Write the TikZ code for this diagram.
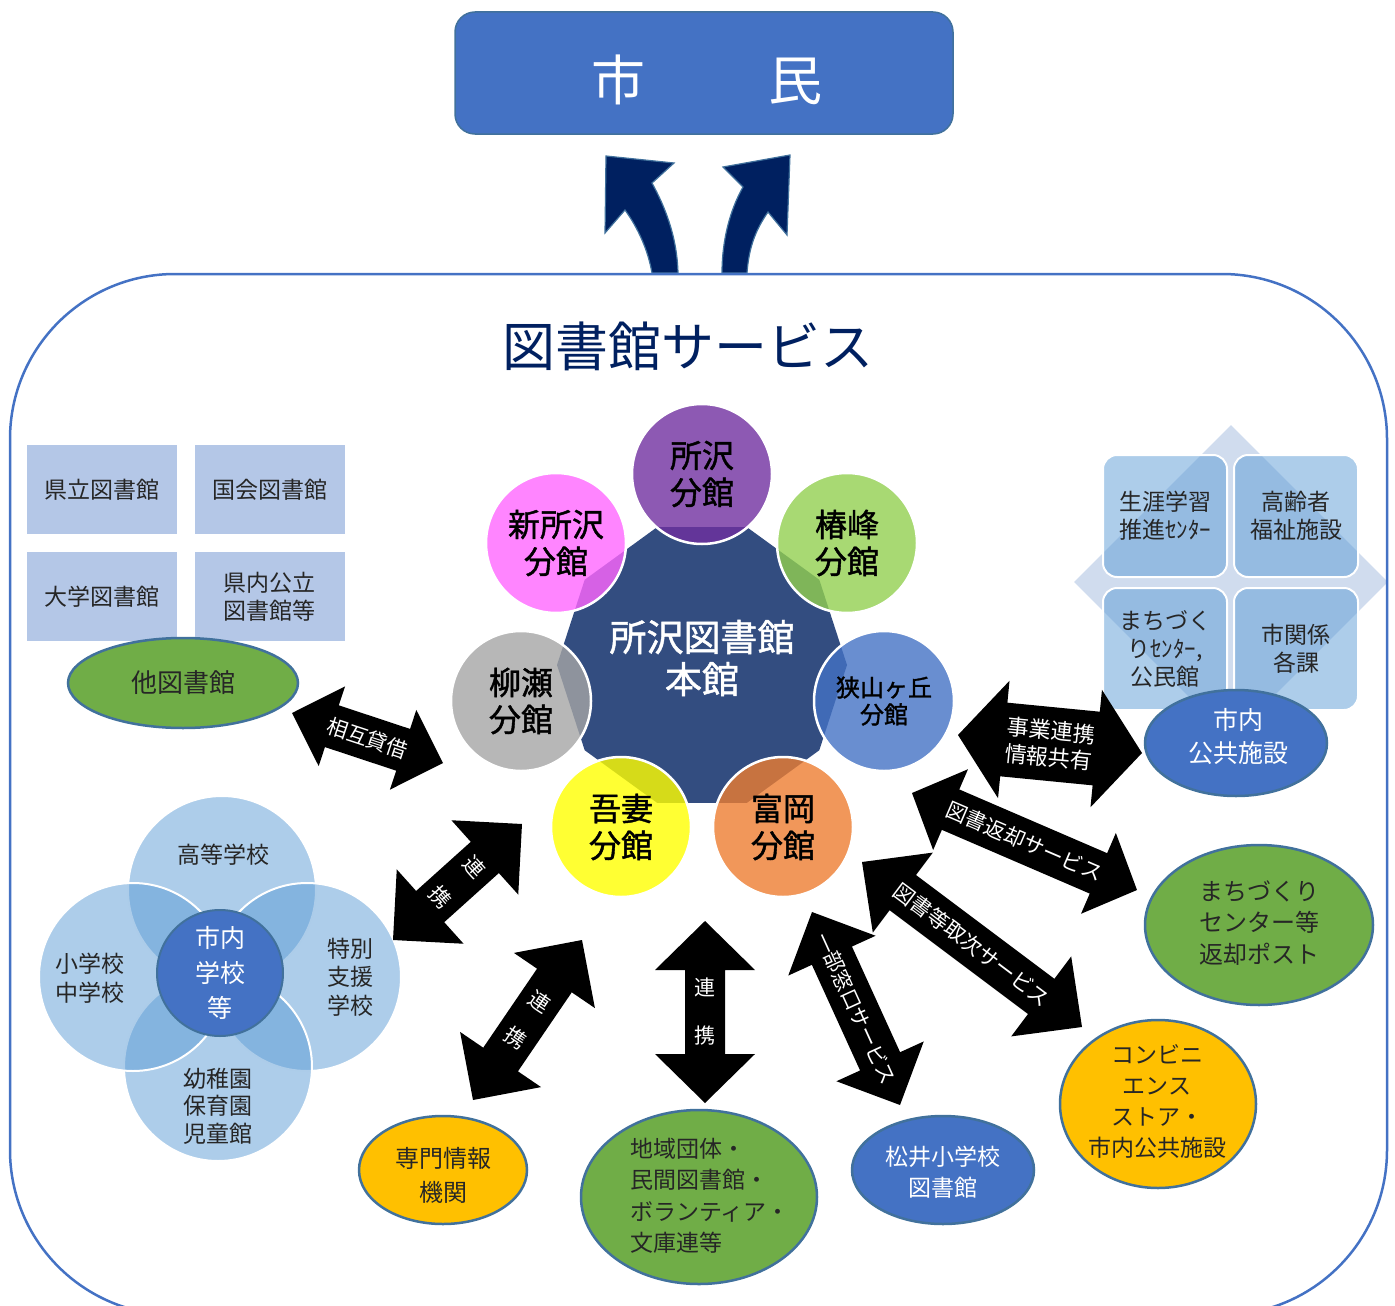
\documentclass[tikz,border=0pt]{standalone}
\usepackage{fontspec}
\setmainfont{Noto Sans CJK JP}
\newfontfamily\medfont{Noto Sans CJK JP}[FakeBold=1.3]
\usetikzlibrary{shapes.geometric,calc}
\definecolor{navy}{HTML}{002060}
\definecolor{arredge}{HTML}{41719C}
\definecolor{mainblue}{HTML}{4472C4}
\definecolor{edgeblue}{HTML}{41719C}
\definecolor{honkan}{HTML}{334D80}
\definecolor{cpurple}{HTML}{7030A0}
\definecolor{cmagenta}{HTML}{FF66FF}
\definecolor{clgreen}{HTML}{92D050}
\definecolor{corange}{HTML}{ED7D31}
\definecolor{cyellow}{HTML}{FFFF00}
\definecolor{cgray}{HTML}{A5A5A5}
\definecolor{acc}{HTML}{5B9BD5}
\definecolor{boxblue}{HTML}{B4C7E7}
\definecolor{dia}{HTML}{D0DCEE}
\definecolor{green}{HTML}{70AD47}
\definecolor{gold}{HTML}{FFC000}
\definecolor{txtgray}{HTML}{262626}
\tikzset{
 circ/.style={circle, minimum size=140pt, inner sep=0pt, draw=white, line width=2.5pt, fill opacity=0.8, text opacity=1, align=center, font=\medfont\fontsize{32}{37}\selectfont},
 petal/.style={circle, minimum size=188pt, inner sep=0pt, draw=white, line width=2pt, fill=acc, fill opacity=0.5},
 tlbox/.style={rectangle, minimum width=150pt, minimum height=89pt, inner sep=0pt, fill=boxblue, align=center, text=txtgray, font=\fontsize{23}{28}\selectfont},
 rsq/.style={rectangle, rounded corners=14pt, minimum width=124pt, minimum height=122pt, inner sep=0pt, fill=acc, fill opacity=0.5, draw=white, line width=2pt, text opacity=1, align=center, text=txtgray, font=\fontsize{23}{28}\selectfont},
 ell/.style={ellipse, inner sep=0pt, draw=edgeblue, line width=2.5pt},
 lbl/.style={align=center, inner sep=0pt},
 arrowtxt/.style={text=white, align=center, inner sep=0pt},
}
\newcommand{\barrow}[9]{%
 \coordinate (#1-a) at #2;
 \coordinate (#1-b) at #3;
 \coordinate (#1-p) at ($(#1-a)!#6!(#1-b)$);
 \coordinate (#1-q) at ($(#1-b)!#6!(#1-a)$);
 \fill[black] (#1-a) -- ($(#1-p)!#5!90:(#1-b)$) -- ($(#1-p)!#4!90:(#1-b)$) -- ($(#1-q)!#4!-90:(#1-a)$) -- ($(#1-q)!#5!-90:(#1-a)$) -- (#1-b) -- ($(#1-q)!#5!90:(#1-a)$) -- ($(#1-q)!#4!90:(#1-a)$) -- ($(#1-p)!#4!-90:(#1-b)$) -- ($(#1-p)!#5!-90:(#1-b)$) -- cycle;
 \node[arrowtxt, rotate=#7, font=#8] (#1) at ($(#1-a)!0.5!(#1-b)$) {#9};
}
\begin{document}
\begin{tikzpicture}[x=1pt,y=-1pt]
\useasboundingbox (0,0) rectangle (1395,1306);

% citizens box
\node[rectangle, rounded corners=20pt, minimum width=498pt, minimum height=122pt, fill=mainblue, draw=edgeblue, line width=1.5pt] (shimin) at (704,73) {};
\node[lbl, text=white, font=\fontsize{54}{60}\selectfont] (shimin-t) at (707,80) {市\hspace{123pt}民};

% curved arrows up
\filldraw[fill=navy, draw=arredge, line width=1.2pt] (652,273) .. controls (648,250) and (638,228) .. (625,210) -- (605,233) -- (606,156) -- (674,163) -- (652,183) .. controls (664,205) and (677,235) .. (678,273) -- cycle;
\filldraw[fill=navy, draw=arredge, line width=1.2pt] (747,273) .. controls (749,245) and (757,228) .. (768,212) -- (787,235) -- (790,155) -- (723,167) -- (743,187) .. controls (730,210) and (722,240) .. (722,273) -- cycle;

% title
\node[lbl, text=navy, font=\fontsize{53}{58}\selectfont] (title) at (688,346) {図書館サービス};

% central decagon
\fill[honkan] (847,665) \foreach \a in {36,72,...,324} {-- ($(702,665)+(\a:145pt)$)} -- cycle;
\coordinate (honc) at (702,665);

% branch circles
\node[circ, fill=cpurple] (tokorozawa) at (702,474) {所沢\\分館};
\node[circ, fill=cmagenta] (shin) at (556,543) {新所沢\\分館};
\node[circ, fill=clgreen] (tsubaki) at (847,543) {椿峰\\分館};
\node[circ, fill=mainblue, font=\medfont\fontsize{24}{27}\selectfont] (sayama) at (884,701) {狭山ヶ丘\\分館};
\node[circ, fill=corange] (tomioka) at (783,827) {富岡\\分館};
\node[circ, fill=cyellow] (azuma) at (621,827) {吾妻\\分館};
\node[circ, fill=cgray] (yanase) at (521,701) {柳瀬\\分館};
\node[lbl, text=white, font=\medfont\fontsize{37}{42}\selectfont] (hon) at (702,658) {所沢図書館\\本館};

% top-left boxes
\node[tlbox] (kenritsu) at (102,489.5) {県立図書館};
\node[tlbox] (kokkai) at (269.5,489.5) {国会図書館};
\node[tlbox] (daigaku) at (102,596.5) {大学図書館};
\node[tlbox] (kennai) at (269.5,596.5) {県内公立\\図書館等};
\node[ell, fill=green, minimum width=230pt, minimum height=90pt] (tatosho) at (183,683) {};
\node[lbl, text=txtgray, font=\fontsize{26}{30}\selectfont] (tatosho-t) at (183,683) {他図書館};

% schools cluster
\node[petal] (koko) at (222,890) {};
\node[petal] (tokubetsu) at (307,977) {};
\node[petal] (yochien) at (218,1067) {};
\node[petal] (shochu) at (133,977) {};
\node[circle, minimum size=126pt, inner sep=0pt, fill=mainblue, draw=edgeblue, line width=2pt] (gakko) at (220,973) {};
\node[lbl, text=txtgray, font=\fontsize{23}{28}\selectfont] (koko-t) at (223,855) {高等学校};
\node[lbl, text=txtgray, font=\fontsize{23}{29}\selectfont] (shochu-t) at (90,978) {小学校\\中学校};
\node[lbl, text=txtgray, font=\fontsize{23}{28.5}\selectfont] (tokubetsu-t) at (350,977) {特別\\支援\\学校};
\node[lbl, text=txtgray, font=\fontsize{23}{27.5}\selectfont] (yochien-t) at (218,1106) {幼稚園\\保育園\\児童館};
\node[lbl, text=white, font=\fontsize{25}{35}\selectfont] (gakko-t) at (220,973) {市内\\学校\\等};

% right cluster
\node[diamond, minimum width=314pt, minimum height=314pt, inner sep=0pt, fill=dia] (diamond) at (1231,582) {};
\node[rsq] (shogai) at (1165,516) {生涯学習\\推進ｾﾝﾀｰ};
\node[rsq] (koreisha) at (1296,516) {高齢者\\福祉施設};
\node[rsq] (machi) at (1165,649) {まちづく\\りｾﾝﾀｰ,\\公民館};
\node[rsq] (shikankei) at (1296,649) {市関係\\各課};
\node[ell, fill=mainblue, minimum width=182pt, minimum height=106pt] (shinai) at (1236,743) {};
\node[lbl, text=white, font=\fontsize{25}{33}\selectfont] (shinai-t) at (1238,736) {市内\\公共施設};

% right / bottom ellipses
\node[ell, fill=green, minimum width=228pt, minimum height=160pt] (post) at (1259,925) {};
\node[lbl, text=txtgray, font=\fontsize{24}{31.5}\selectfont] (post-t) at (1259,923) {まちづくり\\センター等\\返却ポスト};
\node[ell, fill=gold, minimum width=196pt, minimum height=168pt] (conv) at (1158,1104) {};
\node[lbl, text=txtgray, font=\fontsize{23}{31}\selectfont] (conv-t) at (1157,1101) {コンビニ\\エンス\\ストア・\\市内公共施設};
\node[ell, fill=gold, minimum width=168pt, minimum height=108pt] (senmon) at (443,1170) {};
\node[lbl, text=txtgray, font=\fontsize{24}{34}\selectfont] (senmon-t) at (443,1175) {専門情報\\機関};
\node[ell, fill=green, minimum width=236pt, minimum height=174pt] (chiiki) at (699,1197) {};
\node[lbl, align=left, text=txtgray, font=\fontsize{23}{31.5}\selectfont] (chiiki-t) at (710,1196) {地域団体・\\民間図書館・\\ボランティア・\\文庫連等};
\node[ell, fill=mainblue, minimum width=182pt, minimum height=108pt] (matsui) at (943,1170) {};
\node[lbl, text=white, font=\fontsize{23}{31}\selectfont] (matsui-t) at (943,1172) {松井小学校\\図書館};

% block arrows
\barrow{ar1}{(292,713)}{(443,763)}{22pt}{42pt}{42pt}{-18.3}{\fontsize{21}{25}\selectfont}{相互貸借}
\barrow{ar2}{(522,824)}{(393,940)}{21pt}{50pt}{50pt}{-48}{\fontsize{21}{46}\selectfont}{連\\携}
\barrow{ar3}{(582,940)}{(473,1100)}{21pt}{49pt}{49pt}{-34}{\fontsize{21}{44}\selectfont}{連\\携}
\barrow{ar4}{(705,921)}{(705,1103)}{20pt}{50pt}{49pt}{0}{\fontsize{21}{48}\selectfont}{連\\携}
\barrow{ar5}{(812,912)}{(900,1105)}{22pt}{48pt}{48pt}{-65.5}{\fontsize{20.5}{24}\selectfont}{一部窓口サービス}
\barrow{ar6}{(862,862)}{(1082,1027)}{22pt}{50pt}{51pt}{-36.9}{\fontsize{21}{25}\selectfont}{図書等取次サービス}
\barrow{ar7}{(912,793)}{(1137,890)}{22pt}{44pt}{42pt}{-23.3}{\fontsize{21}{25}\selectfont}{図書返却サービス}
\barrow{ar8}{(958,735)}{(1142,753)}{37pt}{59pt}{46pt}{-5.6}{\fontsize{22}{27}\selectfont}{事業連携\\情報共有}

% container
\draw[draw=mainblue, line width=2.5pt, rounded corners=165pt] (10,274) rectangle (1387,1315);
\end{tikzpicture}
\end{document}
